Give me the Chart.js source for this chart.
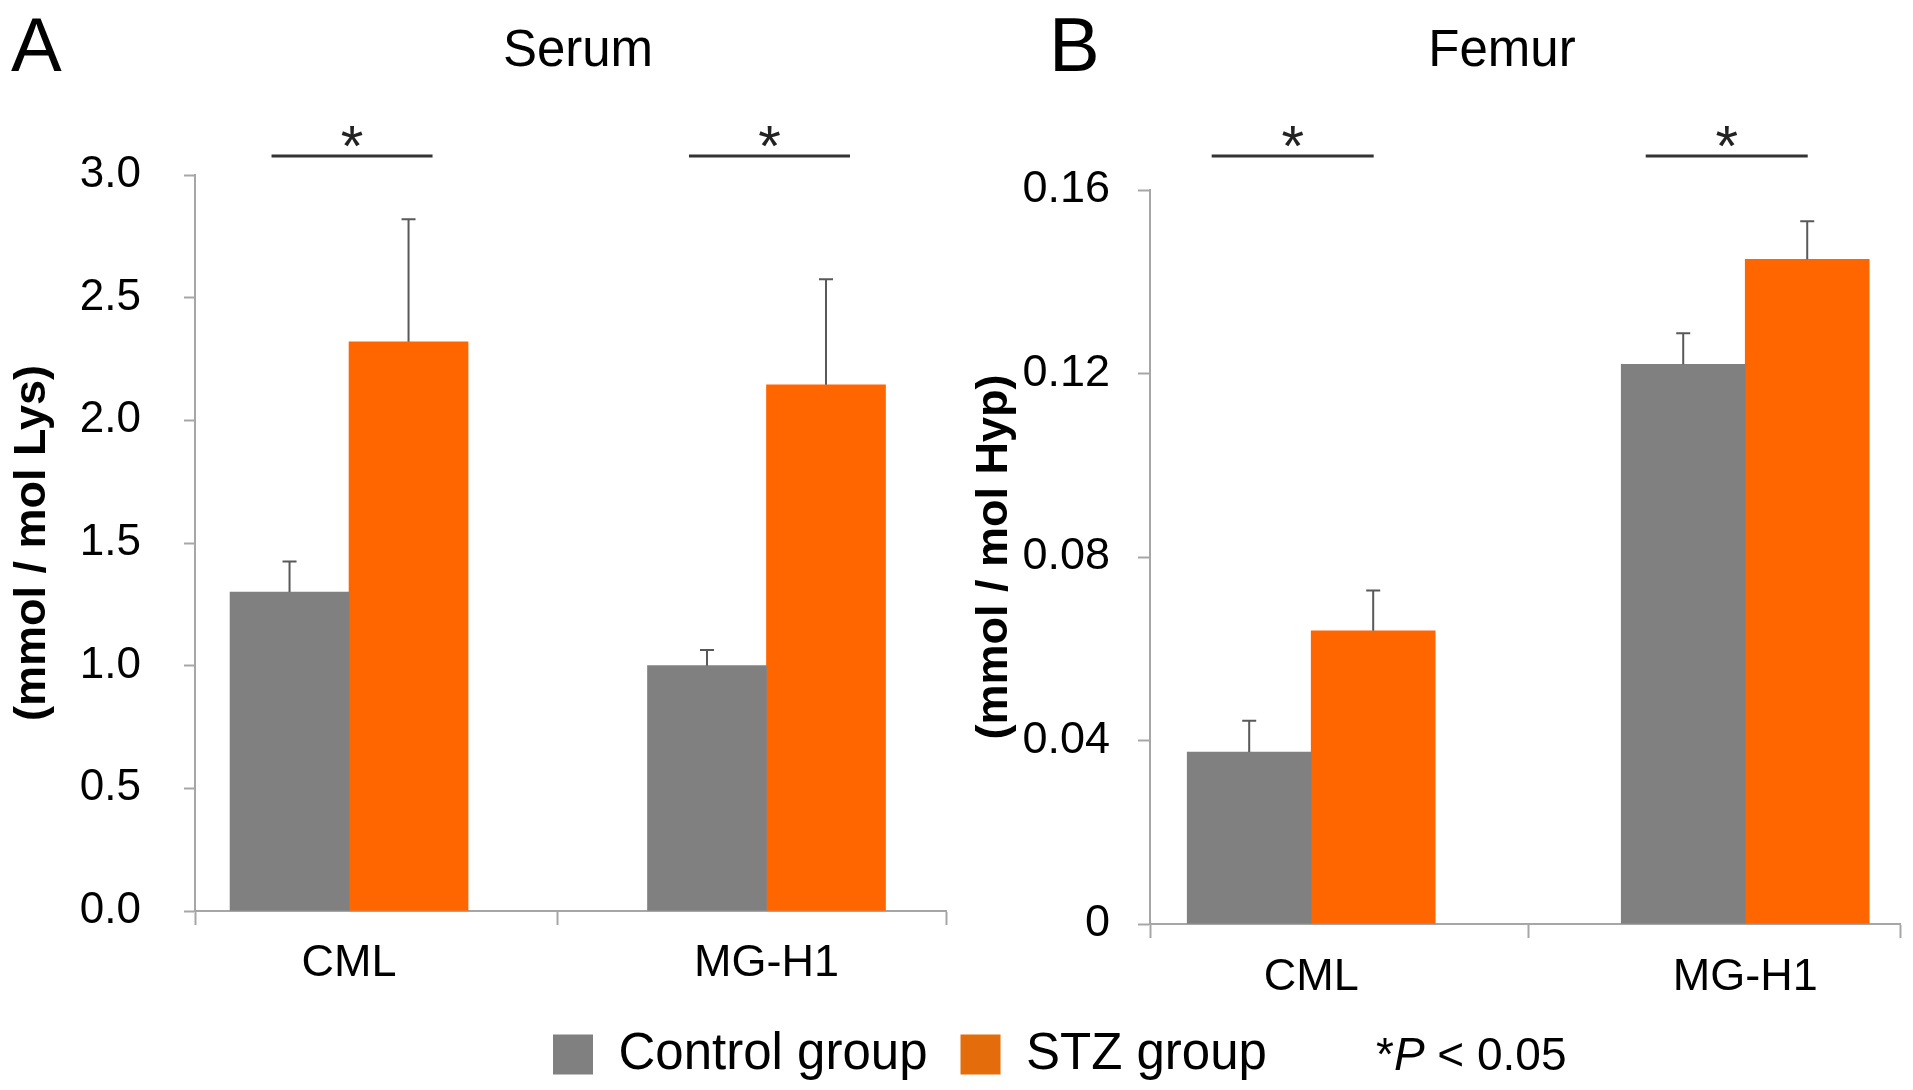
<!DOCTYPE html>
<html lang="en">
<head>
<meta charset="UTF-8">
<title>Serum and Femur AGEs</title>
<style>
  body { margin: 0; background: #ffffff; }
  .panel { position: absolute; left: 0; top: 0; width: 1913px; height: 1090px; }
</style>
</head>
<body>
<div class="panel"><canvas id="serumChart"></canvas></div>
<div class="panel"><canvas id="femurChart"></canvas></div>

<script src="https://cdn.jsdelivr.net/npm/chart.js"></script>
<script>
// values
const categories = ['CML', 'MG-H1'];
const groupLabels = ['Control group', 'STZ group'];

const serumControl = [1.30, 1.00];
const serumControlErr = [0.125, 0.064];
const serumStz = [2.32, 2.145];
const serumStzErr = [0.50, 0.43];
const serumTicks = [0, 0.5, 1.0, 1.5, 2.0, 2.5, 3.0];
const serumSignificant = [true, true];

const femurControl = [0.0375, 0.122];
const femurControlErr = [0.0068, 0.0068];
const femurStz = [0.0639, 0.1449];
const femurStzErr = [0.0088, 0.0083];
const femurTicks = [0, 0.04, 0.08, 0.12, 0.16];
const femurSignificant = [true, true];

const grey = '#808080';
const orange = '#ff6600';
const axisGrey = '#a6a6a6';

Chart.defaults.font.family = "'Liberation Sans', Arial, sans-serif";
Chart.defaults.color = '#000';

function points(values) {
    return values.map((v, i) => ({ x: i, y: v }));
}

// vertical error bars (upper half only, like the original)
const errorBars = {
    id: 'errorBars',
    afterDatasetsDraw(chart) {
        const ctx = chart.ctx;
        const yScale = chart.scales.y;
        ctx.save();
        ctx.strokeStyle = '#595959';
        ctx.lineWidth = 2;
        chart.data.datasets.forEach((ds, d) => {
            chart.getDatasetMeta(d).data.forEach((bar, i) => {
                const top = yScale.getPixelForValue(ds.data[i].y + ds.errors[i]);
                ctx.beginPath();
                ctx.moveTo(bar.x, bar.y);
                ctx.lineTo(bar.x, top);
                ctx.moveTo(bar.x - 7, top);
                ctx.lineTo(bar.x + 7, top);
                ctx.stroke();
            });
        });
        ctx.restore();
    }
};

// "*" brackets over each pair of bars
const sigBrackets = {
    id: 'sigBrackets',
    afterDraw(chart, args, opts) {
        const ctx = chart.ctx;
        const a = chart.getDatasetMeta(0).data;
        const b = chart.getDatasetMeta(1).data;
        ctx.save();
        ctx.strokeStyle = '#333';
        ctx.fillStyle = '#222';
        ctx.lineWidth = 3;
        ctx.font = "58px 'Liberation Sans', Arial, sans-serif";
        ctx.textAlign = 'center';
        ctx.textBaseline = 'alphabetic';
        opts.flags.forEach((on, i) => {
            if (!on) return;
            const cx = (a[i].x + b[i].x) / 2 + opts.shift;
            ctx.beginPath();
            ctx.moveTo(cx - opts.half, opts.lineY);
            ctx.lineTo(cx + opts.half, opts.lineY);
            ctx.stroke();
            ctx.fillText('*', cx, opts.lineY + 10);
        });
        ctx.restore();
    }
};

// panel letters, titles, footnote
const panelText = {
    id: 'panelText',
    afterDraw(chart, args, opts) {
        const ctx = chart.ctx;
        ctx.save();
        ctx.fillStyle = '#000';
        ctx.textBaseline = 'alphabetic';
        opts.items.forEach(t => {
            ctx.font = t.font;
            ctx.textAlign = t.align;
            ctx.fillText(t.text, t.x, t.y);
        });
        if (opts.note) {
            const n = opts.note;
            let x = n.x;
            ctx.textAlign = 'left';
            ctx.font = n.size + "px 'Liberation Sans', Arial, sans-serif";
            ctx.fillText('*', x, n.y);
            x += ctx.measureText('*').width;
            ctx.font = 'italic ' + n.size + "px 'Liberation Sans', Arial, sans-serif";
            ctx.fillText('P', x, n.y);
            x += ctx.measureText('P').width;
            ctx.font = n.size + "px 'Liberation Sans', Arial, sans-serif";
            ctx.fillText(' < 0.05', x, n.y);
        }
        ctx.restore();
    }
};

function xScale(min, max, height, pad) {
    return {
        type: 'linear',
        min: min,
        max: max,
        offset: false,
        afterBuildTicks: s => { s.ticks = [min, 0, 0.5, 1, max].map(v => ({ value: v })); },
        afterFit: s => { s.height = height; },
        border: { color: axisGrey, width: 2 },
        grid: {
            offset: false,
            drawOnChartArea: false,
            tickLength: 14,
            tickWidth: 2,
            tickColor: c => (c.tick && Number.isInteger(c.tick.value)) ? 'rgba(0,0,0,0)' : axisGrey
        },
        ticks: {
            autoSkip: false,
            maxRotation: 0,
            padding: pad,
            font: { size: 45 },
            callback: v => Number.isInteger(v) ? categories[v] : ''
        }
    };
}

function datasets(ctrl, ctrlErr, stz, stzErr, width) {
    return [
        { label: groupLabels[0], data: points(ctrl), errors: ctrlErr, backgroundColor: grey, borderWidth: 0, barThickness: width },
        { label: groupLabels[1], data: points(stz), errors: stzErr, backgroundColor: orange, borderWidth: 0, barThickness: width }
    ];
}

new Chart(document.getElementById('serumChart'), {
    type: 'bar',
    data: { datasets: datasets(serumControl, serumControlErr, serumStz, serumStzErr, 119) },
    options: {
        responsive: true,
        maintainAspectRatio: false,
        animation: false,
        layout: { padding: { left: 0, right: 967, top: 175, bottom: 89 } },
        scales: {
            x: xScale(-0.369, 1.43, 90, 12),
            y: {
                min: 0,
                max: 3,
                afterBuildTicks: s => { s.ticks = serumTicks.map(v => ({ value: v })); },
                afterFit: s => { s.width = 195; },
                border: { color: axisGrey, width: 2 },
                grid: { drawOnChartArea: false, tickLength: 11, tickWidth: 2, tickColor: axisGrey },
                ticks: { padding: 43, font: { size: 44 }, callback: v => v.toFixed(1) },
                title: {
                    display: true,
                    text: '(mmol / mol Lys)',
                    font: { size: 45, weight: 'bold' },
                    padding: { top: 6, bottom: 0 }
                }
            }
        },
        plugins: {
            legend: { display: false },
            tooltip: { enabled: false },
            sigBrackets: { flags: serumSignificant, lineY: 156, shift: 3, half: 80.5 },
            panelText: {
                items: [
                    { text: 'A', x: 11, y: 71, align: 'left', font: "76px 'Liberation Sans', Arial, sans-serif" },
                    { text: 'Serum', x: 578, y: 66, align: 'center', font: "51px 'Liberation Sans', Arial, sans-serif" }
                ]
            }
        }
    },
    plugins: [errorBars, sigBrackets, panelText]
});

new Chart(document.getElementById('femurChart'), {
    type: 'bar',
    data: { datasets: datasets(femurControl, femurControlErr, femurStz, femurStzErr, 124) },
    options: {
        responsive: true,
        maintainAspectRatio: false,
        animation: false,
        layout: { padding: { left: 520, right: 7, top: 190, bottom: 0 } },
        scales: {
            x: xScale(-0.3714, 1.3566, 72, 13),
            y: {
                min: 0,
                max: 0.16,
                afterBuildTicks: s => { s.ticks = femurTicks.map(v => ({ value: v })); },
                afterFit: s => { s.width = 630; },
                border: { color: axisGrey, width: 2 },
                grid: { drawOnChartArea: false, tickLength: 12, tickWidth: 2, tickColor: axisGrey },
                ticks: { padding: 28, font: { size: 45 }, callback: v => v === 0 ? '0' : v.toFixed(2) },
                title: {
                    display: true,
                    text: '(mmol / mol Hyp)',
                    font: { size: 45, weight: 'bold' },
                    padding: { top: 448, bottom: 0 }
                }
            }
        },
        plugins: {
            legend: {
                display: true,
                position: 'bottom',
                align: 'start',
                labels: {
                    boxWidth: 40,
                    boxHeight: 40,
                    padding: 33,
                    font: { size: 51 },
                    generateLabels(chart) {
                        const items = Chart.defaults.plugins.legend.labels.generateLabels(chart);
                        items.forEach(it => { it.lineWidth = 0; });
                        if (items[1]) items[1].fillStyle = '#e46c0a';
                        return items;
                    }
                }
            },
            tooltip: { enabled: false },
            sigBrackets: { flags: femurSignificant, lineY: 156, shift: -18.5, half: 81 },
            panelText: {
                items: [
                    { text: 'B', x: 1049, y: 71, align: 'left', font: "76px 'Liberation Sans', Arial, sans-serif" },
                    { text: 'Femur', x: 1502, y: 66, align: 'center', font: "51px 'Liberation Sans', Arial, sans-serif" }
                ],
                note: { x: 1376, y: 1070, size: 46 }
            }
        }
    },
    plugins: [errorBars, sigBrackets, panelText]
});
</script>
</body>
</html>
